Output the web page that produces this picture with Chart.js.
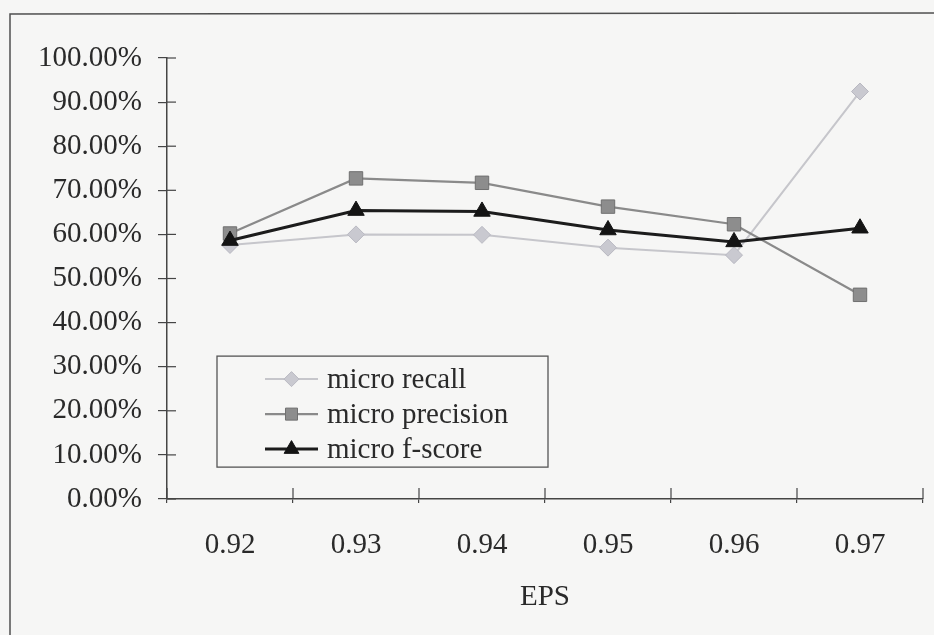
<!DOCTYPE html>
<html><head><meta charset="utf-8">
<style>html,body{margin:0;padding:0;background:#f6f6f5;} #wrap{width:934px;height:635px;position:relative}</style>
<script src="https://cdn.jsdelivr.net/npm/chart.js@4/dist/chart.umd.min.js"></script>
</head><body><div id="wrap"><canvas id="c" width="934" height="635"></canvas></div>
<script>
const categories = ['0.92', '0.93', '0.94', '0.95', '0.96', '0.97'];
const microRecall = [57.6, 60.0, 59.9, 57.0, 55.3, 92.4];
const microPrecision = [60.2, 72.7, 71.7, 66.3, 62.3, 46.3];
const microFScore = [58.6, 65.4, 65.2, 61.0, 58.3, 61.4];
const seriesNames = ['micro recall', 'micro precision', 'micro f-score'];
const axisTitleX = 'EPS';
const yMin = 0, yMax = 100, yStep = 10;

const FONT = "'Liberation Serif', 'Times New Roman', serif";
const INK = '#2a2a2a';
const AXIS = '#454545';

function drawMarker(ctx, style, r, x, y) {
  ctx.beginPath();
  if (style === 'rectRot') {
    ctx.moveTo(x, y - r); ctx.lineTo(x + r, y); ctx.lineTo(x, y + r); ctx.lineTo(x - r, y); ctx.closePath();
  } else if (style === 'rect') {
    const s = r * Math.SQRT1_2;
    ctx.rect(x - s, y - s, 2 * s, 2 * s);
  } else {
    const a = 2 * Math.PI / 3;
    ctx.moveTo(x, y - r);
    ctx.lineTo(x + Math.sin(a) * r, y - Math.cos(a) * r);
    ctx.lineTo(x + Math.sin(2 * a) * r, y - Math.cos(2 * a) * r);
    ctx.closePath();
  }
  ctx.fill();
  ctx.stroke();
}

const decor = {
  id: 'decor',
  beforeDraw(chart) {
    const ctx = chart.ctx;
    ctx.save();
    ctx.fillStyle = '#f6f6f5';
    ctx.fillRect(0, 0, chart.width, chart.height);
    ctx.strokeStyle = '#505050';
    ctx.lineWidth = 1.5;
    ctx.beginPath();
    ctx.moveTo(10, 635); ctx.lineTo(10, 14); ctx.lineTo(934, 13);
    ctx.stroke();
    ctx.restore();
  },
  afterDraw(chart) {
    const ctx = chart.ctx;
    const xs = chart.scales.x, ys = chart.scales.y;
    ctx.save();
    ctx.strokeStyle = AXIS;
    ctx.lineWidth = 1.2;
    // inner halves of the crossing tick marks
    ys.ticks.forEach((t, i) => {
      const py = ys.getPixelForTick(i);
      ctx.beginPath(); ctx.moveTo(ys.right, py); ctx.lineTo(ys.right + 9, py); ctx.stroke();
    });
    const n = categories.length;
    for (let i = 0; i <= n; i++) {
      const px = xs.left + i * (xs.width / n);
      ctx.beginPath(); ctx.moveTo(px, xs.top); ctx.lineTo(px, xs.top - 11); ctx.stroke();
    }
    // legend box inside the plot
    const ca = chart.chartArea;
    const bx = ca.left + 50, by = ys.getPixelForValue(32.4), bw = 331, bh = 111;
    ctx.fillStyle = '#f6f6f5';
    ctx.fillRect(bx, by, bw, bh);
    ctx.strokeStyle = '#555';
    ctx.lineWidth = 1.3;
    ctx.strokeRect(bx, by, bw, bh);
    ctx.font = '29px ' + FONT;
    ctx.textBaseline = 'middle';
    ctx.textAlign = 'left';
    chart.data.datasets.forEach((ds, i) => {
      const cy = by + 23 + i * 35;
      const lx0 = bx + 48, lx1 = bx + 101, mx = (lx0 + lx1) / 2;
      ctx.strokeStyle = ds.borderColor;
      ctx.lineWidth = ds.borderWidth;
      ctx.beginPath(); ctx.moveTo(lx0, cy); ctx.lineTo(lx1, cy); ctx.stroke();
      ctx.fillStyle = ds.pointBackgroundColor;
      ctx.strokeStyle = ds.pointBorderColor;
      ctx.lineWidth = ds.pointBorderWidth;
      drawMarker(ctx, ds.pointStyle, ds.pointRadius - 1, mx, cy);
      ctx.fillStyle = INK;
      ctx.fillText(ds.label, bx + 110, cy + 1);
    });
    ctx.restore();
  }
};

new Chart(document.getElementById('c'), {
  type: 'line',
  data: {
    labels: categories,
    datasets: [
      { label: seriesNames[0], data: microRecall, order: 3,
        borderColor: '#c6c6cb', borderWidth: 2,
        pointStyle: 'rectRot', pointRadius: 8.5, pointBackgroundColor: '#c9c9d0', pointBorderColor: '#b9b9c2', pointBorderWidth: 1 },
      { label: seriesNames[1], data: microPrecision, order: 2,
        borderColor: '#8a8a8a', borderWidth: 2.2,
        pointStyle: 'rect', pointRadius: 9.5, pointBackgroundColor: '#8d8d8d', pointBorderColor: '#707070', pointBorderWidth: 1 },
      { label: seriesNames[2], data: microFScore, order: 1,
        borderColor: '#1c1c1c', borderWidth: 3,
        pointStyle: 'triangle', pointRadius: 9.5, pointBackgroundColor: '#141414', pointBorderColor: '#141414', pointBorderWidth: 1 }
    ]
  },
  options: {
    responsive: false,
    animation: false,
    layout: { padding: { left: 10, right: 11, top: 58, bottom: 10 } },
    plugins: { legend: { display: false }, tooltip: { enabled: false } },
    elements: { line: { tension: 0 } },
    scales: {
      x: {
        offset: true,
        grid: { offset: true, drawOnChartArea: false, drawTicks: true, tickLength: 4, color: AXIS, lineWidth: 1.2 },
        border: { display: true, color: AXIS, width: 1.5 },
        ticks: { color: INK, font: { family: FONT, size: 29 }, padding: 25, maxRotation: 0 },
        title: { display: true, text: axisTitleX, color: INK, font: { family: FONT, size: 29 }, padding: { top: 0, bottom: 10 } },
        afterFit(s) { s.height = 126; }
      },
      y: {
        min: yMin, max: yMax,
        grid: { drawOnChartArea: false, drawTicks: true, tickLength: 9, color: AXIS, lineWidth: 1.2 },
        border: { display: true, color: AXIS, width: 1.5 },
        ticks: { stepSize: yStep, color: INK, font: { family: FONT, size: 29 }, padding: 16,
                 callback: v => v.toFixed(2) + '%' },
        afterFit(s) { s.width = 157; }
      }
    }
  },
  plugins: [decor]
});
</script>
</body></html>
